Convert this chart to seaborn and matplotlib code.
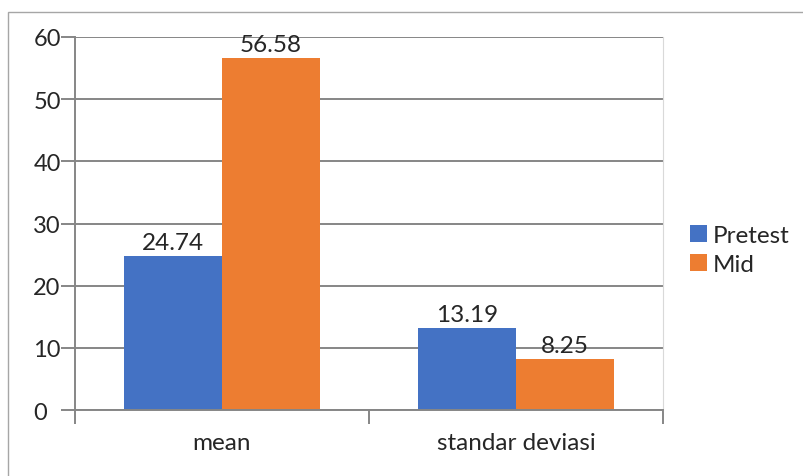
import matplotlib
matplotlib.use('Agg')
import matplotlib.pyplot as plt
import matplotlib.patches as mpatches
import pandas as pd
import seaborn as sns

# data
categories = ['mean', 'standar deviasi']
series_names = ['Pretest', 'Mid']
pretest = [24.74, 13.19]
mid = [56.58, 8.25]
y_ticks = [0, 10, 20, 30, 40, 50, 60]
colors = ['#4472C4', '#ED7D31']

df = pd.DataFrame({
    'category': categories * 2,
    'series': [series_names[0]] * 2 + [series_names[1]] * 2,
    'value': pretest + mid,
})

sns.set_style('white')
plt.rcParams['font.family'] = ['Lato', 'DejaVu Sans']
text_color = '#262626'
line_color = '#868686'
fs = 17.5

fig = plt.figure(figsize=(8.04, 4.77), dpi=100)
ax = fig.add_axes([75 / 804, 1 - 411 / 477, 588 / 804, 373 / 477])

sns.barplot(data=df, x='category', y='value', hue='series', palette=colors,
            width=2 / 3, saturation=1, linewidth=0, ax=ax, legend=True)

# value labels above the bars
for cont in ax.containers:
    ax.bar_label(cont, fmt='%.2f', fontsize=fs, color=text_color, padding=2)

ax.set_xlim(-0.5, 1.5)
ax.set_ylim(0, 60)
ax.set_yticks(y_ticks)
ax.set_xlabel('')
ax.set_ylabel('')
ax.grid(axis='y', color=line_color, linewidth=1.4)
ax.set_axisbelow(True)

ax.spines['top'].set_visible(False)
ax.spines['right'].set_color('#d9d9d9')
for side in ['left', 'bottom']:
    ax.spines[side].set_color(line_color)
    ax.spines[side].set_linewidth(1.4)

ax.tick_params(axis='y', which='both', left=True, length=10, width=1.4, color=line_color,
               labelsize=17, labelcolor=text_color, pad=20)
for lab in ax.get_yticklabels():
    lab.set_horizontalalignment('left')
ax.tick_params(axis='x', bottom=False, labelsize=fs, labelcolor=text_color, pad=12)
# category boundary ticks on x axis
ax.set_xticks([-0.5, 0.5, 1.5], minor=True)
ax.tick_params(axis='x', which='minor', bottom=True, length=10, width=1.4, color=line_color)

leg = ax.legend(loc='center left', bbox_to_anchor=(615 / 588, 160 / 373), frameon=False,
                fontsize=fs, handlelength=0.7, handleheight=0.7, handletextpad=0.25,
                labelspacing=0.33, borderpad=0, borderaxespad=0)
for t in leg.get_texts():
    t.set_color(text_color)

# outer chart frame
frame = mpatches.Rectangle((8 / 804, -0.05), 1.1, 1 - 13 / 477 + 0.05, transform=fig.transFigure,
                           fill=False, edgecolor='#a6a6a6', linewidth=1.0, clip_on=False)
fig.patches.append(frame)

fig.savefig('out.png', dpi=100)
